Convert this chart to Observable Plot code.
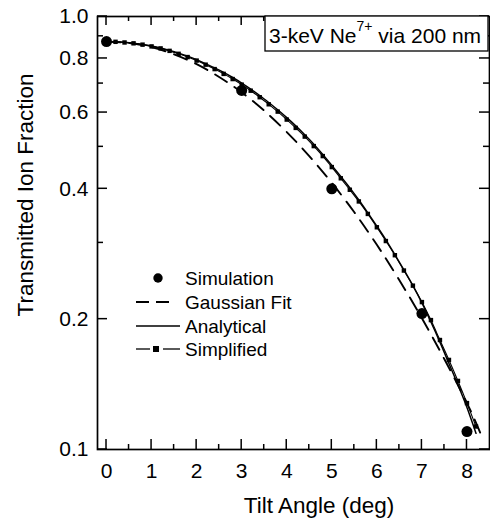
<!DOCTYPE html>
<html><head><meta charset="utf-8">
<script src="https://cdn.jsdelivr.net/npm/d3@7"></script>
<script src="https://cdn.jsdelivr.net/npm/@observablehq/plot@0.6"></script>
<style>
html,body{margin:0;padding:0;background:#fff;}
#chart{width:490px;height:520px;}
</style></head><body><div id="chart"></div>
<script>
// ---- data ----
const simAngle = [0, 3, 5, 7, 8];
const simFraction = [0.875, 0.675, 0.400, 0.206, 0.110];

const gaussAngle = [0, 0.5, 1, 1.5, 2, 2.5, 3, 3.5, 4, 4.5, 5, 5.5, 6, 6.5, 7, 7.5, 8, 8.3];
const gaussFraction = [0.875, 0.868, 0.849, 0.818, 0.776, 0.725, 0.668, 0.606, 0.541, 0.476, 0.413, 0.353, 0.297, 0.246, 0.201, 0.1616, 0.128, 0.109];

const gridAngle = [0, 0.2, 0.4, 0.6, 0.8, 1.0, 1.2, 1.4, 1.6, 1.8, 2.0, 2.2, 2.4, 2.6, 2.8, 3.0, 3.2, 3.4, 3.6, 3.8, 4.0,
  4.2, 4.4, 4.6, 4.8, 5.0, 5.2, 5.4, 5.6, 5.8, 6.0, 6.2, 6.4, 6.6, 6.8, 7.0, 7.2, 7.4, 7.6, 7.8, 8.0, 8.2];
const analyticalFraction = [0.875, 0.874, 0.872, 0.868, 0.862, 0.855, 0.846, 0.835, 0.823, 0.810, 0.795, 0.778, 0.761, 0.743, 0.723, 0.702, 0.680, 0.657, 0.633, 0.609, 0.584,
  0.559, 0.533, 0.507, 0.480, 0.453, 0.427, 0.402, 0.377, 0.352, 0.328, 0.305, 0.282, 0.260, 0.239, 0.218, 0.197, 0.177, 0.158, 0.141, 0.125, 0.109];
const simplifiedFraction = [0.875, 0.874, 0.871, 0.867, 0.861, 0.853, 0.844, 0.833, 0.820, 0.806, 0.791, 0.774, 0.756, 0.737, 0.717, 0.696, 0.674, 0.651, 0.627, 0.603, 0.578,
  0.553, 0.528, 0.502, 0.476, 0.449, 0.423, 0.398, 0.374, 0.350, 0.326, 0.303, 0.281, 0.259, 0.239, 0.219, 0.199, 0.179, 0.161, 0.144, 0.128, 0.113];

const xTicks = [0, 1, 2, 3, 4, 5, 6, 7, 8];
const xMinorTicks = [0.5, 1.5, 2.5, 3.5, 4.5, 5.5, 6.5, 7.5];
const yTicks = [0.1, 0.2, 0.4, 0.6, 0.8, 1.0];
const yMinorTicks = [0.3, 0.5, 0.7, 0.9];

const legendLabels = ["Simulation", "Gaussian Fit", "Analytical", "Simplified"];
const xLabel = "Tilt Angle (deg)";
const yLabel = "Transmitted Ion Fraction";
const noteMain = "3-keV Ne";
const noteSup = "7+";
const noteTail = " via 200 nm";

// ---- tables ----
const sim = simAngle.map((a, i) => ({angle: a, fraction: simFraction[i]}));
const gauss = gaussAngle.map((a, i) => ({angle: a, fraction: gaussFraction[i]}));
const analytical = gridAngle.map((a, i) => ({angle: a, fraction: analyticalFraction[i]}));
const simplified = gridAngle.map((a, i) => ({angle: a, fraction: simplifiedFraction[i]}));

const FONT = "'Liberation Sans', Arial, Helvetica, sans-serif";

// inward ticks on all four sides, placed through the plot's own scales
function ticksMark(index, scales, values, dimensions) {
  const {width, height, marginLeft, marginRight, marginTop, marginBottom} = dimensions;
  const left = marginLeft, right = width - marginRight, top = marginTop, bottom = height - marginBottom;
  const g = d3.create("svg:g").attr("stroke", "black").attr("stroke-width", 1.5);
  const addX = (ticks, len, lenTop) => ticks.forEach(t => {
    const x = scales.x(t);
    g.append("line").attr("x1", x).attr("x2", x).attr("y1", bottom).attr("y2", bottom - len);
    g.append("line").attr("x1", x).attr("x2", x).attr("y1", top).attr("y2", top + lenTop);
  });
  const addY = (ticks, len) => ticks.forEach(t => {
    const y = scales.y(t);
    g.append("line").attr("x1", left).attr("x2", left + len).attr("y1", y).attr("y2", y);
    g.append("line").attr("x1", right).attr("x2", right - len).attr("y1", y).attr("y2", y);
  });
  addX(xTicks, 10, 9);
  addX(xMinorTicks, 5, 5);
  addY(yTicks, 10);
  addY(yMinorTicks, 6);
  return g.node();
}

function overlay(index, scales, values, dimensions) {
  const g = d3.create("svg:g").attr("font-family", FONT).attr("fill", "black").attr("text-anchor", "start");
  // annotation box
  const box = g.append("g");
  box.append("rect").attr("x", 265).attr("y", 16).attr("width", 223).attr("height", 35)
    .attr("fill", "white").attr("stroke", "black").attr("stroke-width", 1.3);
  const t = box.append("text").attr("x", 269).attr("y", 42.5).attr("font-size", 21).attr("text-anchor", "start");
  t.append("tspan").text(noteMain);
  t.append("tspan").attr("font-size", 14).attr("dy", -12).text(noteSup);
  t.append("tspan").attr("dy", 12).text(noteTail);

  // legend
  const rows = [278, 302, 326, 349];
  const lg = g.append("g");
  lg.append("circle").attr("cx", 158).attr("cy", rows[0]).attr("r", 4.7).attr("fill", "black");
  lg.append("line").attr("x1", 136).attr("x2", 170).attr("y1", rows[1]).attr("y2", rows[1])
    .attr("stroke", "black").attr("stroke-width", 2).attr("stroke-dasharray", "13,7");
  lg.append("line").attr("x1", 136).attr("x2", 180).attr("y1", rows[2]).attr("y2", rows[2])
    .attr("stroke", "black").attr("stroke-width", 1.5);
  lg.append("line").attr("x1", 136).attr("x2", 150).attr("y1", rows[3]).attr("y2", rows[3])
    .attr("stroke", "black").attr("stroke-width", 1.3);
  lg.append("rect").attr("x", 153).attr("y", rows[3] - 3).attr("width", 6).attr("height", 6).attr("fill", "black");
  lg.append("line").attr("x1", 163).attr("x2", 180).attr("y1", rows[3]).attr("y2", rows[3])
    .attr("stroke", "black").attr("stroke-width", 1.3);
  legendLabels.forEach((s, i) => {
    lg.append("text").attr("x", 185).attr("y", rows[i]).attr("dy", "0.36em")
      .attr("text-anchor", "start").attr("font-size", 19).text(s);
  });

  // axis titles
  g.append("text").attr("x", 319).attr("y", 512.5).attr("text-anchor", "middle")
    .attr("font-size", 22.5).text(xLabel);
  g.append("text").attr("transform", "translate(33,195) rotate(-90)").attr("text-anchor", "middle")
    .attr("font-size", 22.5).text(yLabel);
  return g.node();
}

const fmtY = d3.format(".1f");

const chart = Plot.plot({
  width: 490,
  height: 520,
  marginLeft: 97,
  marginRight: 1,
  marginTop: 16,
  marginBottom: 71,
  style: {fontFamily: FONT, background: "white", color: "black", overflow: "visible"},
  x: {domain: [-0.2, 8.5], label: null},
  y: {type: "log", domain: [0.1, 1.0], label: null},
  marks: [
    Plot.line(gauss, {x: "angle", y: "fraction", curve: "natural", stroke: "black", strokeWidth: 1.9, strokeDasharray: "14,9"}),
    Plot.line(analytical, {x: "angle", y: "fraction", curve: "monotone-x", stroke: "black", strokeWidth: 1.5}),
    Plot.line(simplified, {x: "angle", y: "fraction", curve: "monotone-x", stroke: "black", strokeWidth: 1.1}),
    Plot.dot(simplified, {x: "angle", y: "fraction", symbol: "square", r: 2.5, fill: "black"}),
    Plot.dot(sim, {x: "angle", y: "fraction", r: 5.5, fill: "black"}),
    // tick labels
    Plot.axisX({ticks: xTicks, anchor: "bottom", tickSize: 0, tickPadding: 14, fontSize: 21, tickFormat: d3.format("d"), label: null}),
    Plot.axisY({ticks: yTicks, anchor: "left", tickSize: 0, tickPadding: 9, fontSize: 21, tickFormat: fmtY, label: null}),
    ticksMark,
    Plot.frame({stroke: "black", strokeWidth: 1.7}),
    overlay
  ]
});
document.getElementById("chart").appendChild(chart);
</script>
</body></html>
